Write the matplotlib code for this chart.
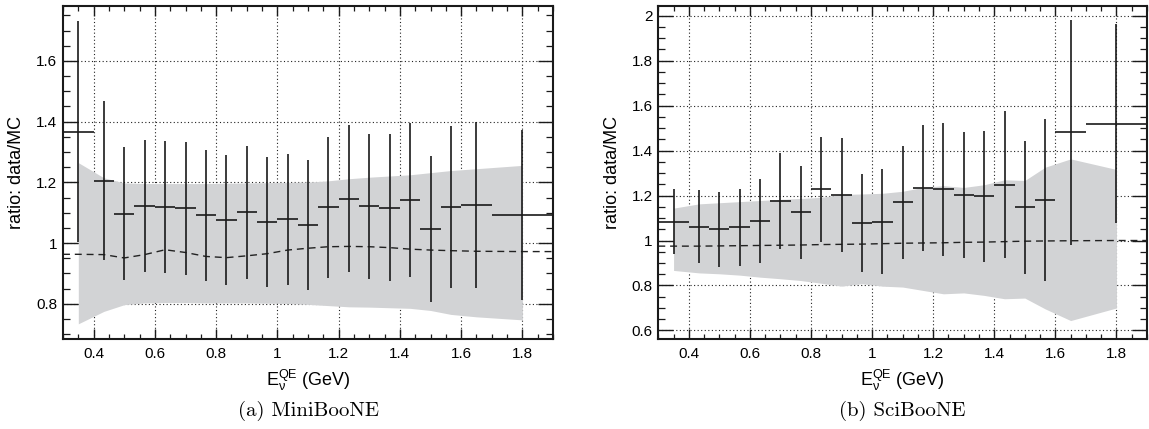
import numpy as np
import matplotlib
matplotlib.use("Agg")
import matplotlib.pyplot as plt
from matplotlib.ticker import MultipleLocator, FuncFormatter

plt.rcParams['font.family'] = ['Liberation Sans', 'DejaVu Sans']
plt.rcParams['mathtext.fontset'] = 'custom'
plt.rcParams['mathtext.rm'] = 'Liberation Sans'
plt.rcParams['mathtext.it'] = 'Liberation Sans:italic'
plt.rcParams['mathtext.bf'] = 'Liberation Sans:bold'

# ---- data ----
bin_edges = [0.3, 0.4, 0.467, 0.533, 0.6, 0.667, 0.733, 0.8, 0.867, 0.933, 1.0,
             1.067, 1.133, 1.2, 1.267, 1.333, 1.4, 1.467, 1.533, 1.6, 1.7, 1.9]

mb_ratio = [1.367, 1.205, 1.097, 1.123, 1.120, 1.114, 1.091, 1.077, 1.101, 1.070, 1.079,
            1.060, 1.118, 1.146, 1.121, 1.117, 1.143, 1.046, 1.119, 1.126, 1.091]
mb_err = [0.365, 0.262, 0.218, 0.217, 0.217, 0.219, 0.215, 0.214, 0.218, 0.214, 0.216,
          0.214, 0.233, 0.242, 0.239, 0.242, 0.254, 0.240, 0.267, 0.274, 0.280]
mb_band_hi = [1.265, 1.215, 1.198, 1.196, 1.196, 1.196, 1.196, 1.197, 1.198, 1.199, 1.200,
              1.201, 1.205, 1.212, 1.217, 1.221, 1.225, 1.232, 1.239, 1.245, 1.256]
mb_band_lo = [0.734, 0.775, 0.797, 0.803, 0.804, 0.804, 0.803, 0.803, 0.803, 0.802, 0.801,
              0.798, 0.794, 0.790, 0.789, 0.787, 0.785, 0.778, 0.765, 0.757, 0.747]
mb_dashed = [0.963, 0.962, 0.951, 0.962, 0.978, 0.969, 0.956, 0.952, 0.958, 0.965, 0.977,
             0.983, 0.988, 0.989, 0.988, 0.985, 0.980, 0.977, 0.975, 0.973, 0.972]

sb_ratio = [1.084, 1.062, 1.049, 1.059, 1.088, 1.175, 1.126, 1.227, 1.203, 1.079, 1.084,
            1.171, 1.234, 1.227, 1.203, 1.196, 1.249, 1.148, 1.181, 1.482, 1.519]
sb_err = [0.145, 0.163, 0.165, 0.172, 0.187, 0.214, 0.207, 0.235, 0.252, 0.217, 0.232,
          0.251, 0.279, 0.295, 0.280, 0.292, 0.326, 0.296, 0.360, 0.500, 0.442]
sb_band_hi = [1.144, 1.163, 1.168, 1.173, 1.178, 1.183, 1.187, 1.192, 1.205, 1.207, 1.210,
              1.219, 1.236, 1.244, 1.236, 1.248, 1.270, 1.267, 1.326, 1.363, 1.316]
sb_band_lo = [0.867, 0.856, 0.852, 0.846, 0.837, 0.830, 0.822, 0.810, 0.797, 0.808, 0.797,
              0.793, 0.778, 0.763, 0.767, 0.756, 0.741, 0.744, 0.696, 0.644, 0.700]
sb_dashed = [0.975, 0.975, 0.976, 0.977, 0.978, 0.979, 0.980, 0.982, 0.983, 0.984, 0.986,
             0.988, 0.989, 0.990, 0.992, 0.993, 0.995, 0.997, 0.998, 0.999, 1.000]

panels = [
    dict(ratio=mb_ratio, err=mb_err, hi=mb_band_hi, lo=mb_band_lo, dash=mb_dashed,
         ylim=(0.684, 1.781), yticks=[0.8, 1.0, 1.2, 1.4, 1.6], caption='(a) MiniBooNE'),
    dict(ratio=sb_ratio, err=sb_err, hi=sb_band_hi, lo=sb_band_lo, dash=sb_dashed,
         ylim=(0.562, 2.043), yticks=[0.6, 0.8, 1.0, 1.2, 1.4, 1.6, 1.8, 2.0], caption='(b) SciBooNE'),
]

W, H = 1149, 429
fig = plt.figure(figsize=(W / 100, H / 100), dpi=100)
axes_px = [(63, 553), (658.3, 1147)]
top_px, bot_px = 6, 339

edges = np.array(bin_edges)
centers = 0.5 * (edges[:-1] + edges[1:])
halfw = 0.5 * np.diff(edges)

fmt = FuncFormatter(lambda v, p: ('%g' % round(v, 3)))

for (x0, x1), P in zip(axes_px, panels):
    ax = fig.add_axes([x0 / W, 1 - bot_px / H, (x1 - x0) / W, (bot_px - top_px) / H])
    ax.set_xlim(0.3, 1.9)
    ax.set_ylim(*P['ylim'])
    ax.set_axisbelow(True)
    ax.grid(True, which='major', color='#222222', linestyle=(0, (1, 2.2)), linewidth=0.8, zorder=0.5)

    ax.fill_between(centers, P['lo'], P['hi'], color='#d2d3d5', linewidth=0, zorder=1)
    dx = np.concatenate([[edges[0]], centers, [edges[-1]]])
    dy = np.concatenate([[P['dash'][0]], P['dash'], [P['dash'][-1]]])
    ax.plot(dx, dy, color='#222222', linestyle=(0, (5, 3.5)), linewidth=1.0, zorder=2)
    ax.errorbar(centers, P['ratio'], yerr=P['err'], xerr=halfw, fmt='none',
                ecolor='#1a1a1a', elinewidth=1.2, capsize=0, zorder=3)

    ax.xaxis.set_major_locator(MultipleLocator(0.2))
    ax.xaxis.set_minor_locator(MultipleLocator(0.05))
    ax.set_yticks(P['yticks'])
    ax.yaxis.set_minor_locator(MultipleLocator(0.05))
    ax.xaxis.set_major_formatter(fmt)
    ax.yaxis.set_major_formatter(fmt)

    ax.tick_params(axis='both', which='both', direction='in', top=True, right=True,
                   labelsize=11, color='#1a1a1a')
    ax.tick_params(axis='x', which='major', length=7.2, width=1.0, pad=5.5)
    ax.tick_params(axis='x', which='minor', length=3.6, width=0.9)
    ax.tick_params(axis='y', which='major', length=10.5, width=1.0, pad=4)
    ax.tick_params(axis='y', which='minor', length=5.2, width=0.9)
    for s in ax.spines.values():
        s.set_linewidth(1.5)
        s.set_color('#1a1a1a')
        s.set_zorder(5)

    ax.set_xlabel(r'$\mathrm{E}_{\mathrm{\nu}}^{\mathrm{QE}}$ (GeV)', fontsize=13)
    ax.xaxis.set_label_coords(0.5, -0.088)
    ax.set_ylabel('ratio: data/MC', fontsize=13)
    ax.yaxis.set_label_coords(-0.077, 0.5)

    fig.text(0.5 * (x0 + x1) / W, 1 - 411 / H, P['caption'], family='cmr10',
             fontsize=15, ha='center', va='center')

fig.savefig('out.png', dpi=100)
